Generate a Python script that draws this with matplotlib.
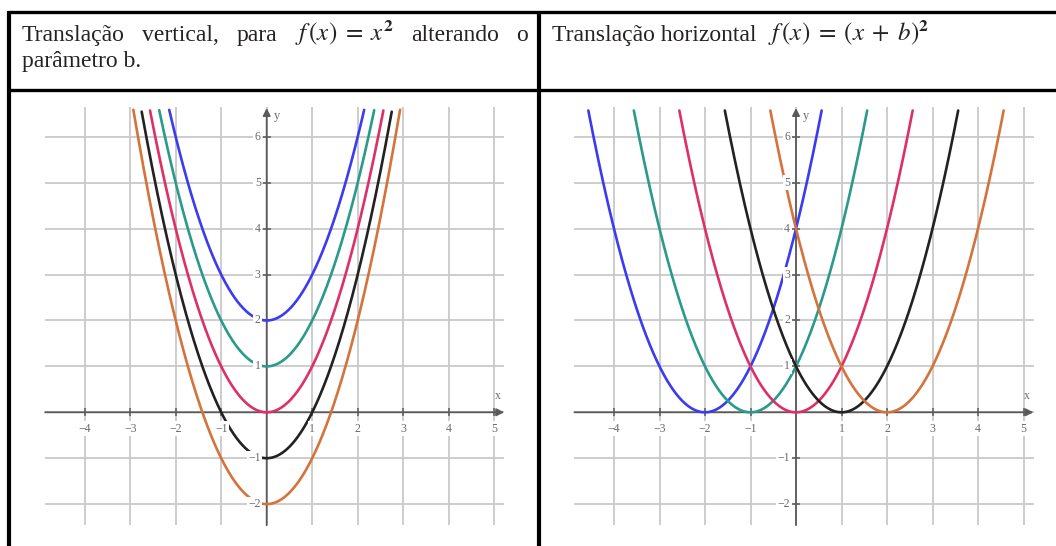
#!/usr/bin/env python3
"""Two-panel table of parabola translations: f(x) = x^2 + b and f(x) = (x + b)^2."""

import numpy as np
import matplotlib
matplotlib.use("Agg")
import matplotlib.pyplot as plt
from matplotlib.lines import Line2D

# parameter b of each curve (same order as the colours)
VERTICAL_B = [2, 1, 0, -1, -2]
HORIZONTAL_B = [2, 1, 0, -1, -2]
CURVE_COLORS = ["#3b3bf0", "#2a9a8b", "#dd3066", "#222222", "#d4733b"]

X_TICKS = [-4, -3, -2, -1, 1, 2, 3, 4, 5]
Y_TICKS = [-2, -1, 1, 2, 3, 4, 5, 6]
GRID_X = [-4, -3, -2, -1, 0, 1, 2, 3, 4, 5]
GRID_Y = [-2, -1, 0, 1, 2, 3, 4, 5, 6]

HEAD_LEFT_1 = ["Translação", "vertical,", "para",
               r"$f\,(x)\;=\;x^{\mathbf{2}}$", "alterando", "o"]
HEAD_LEFT_2 = "parâmetro b."
HEAD_RIGHT_TEXT = "Translação horizontal"
HEAD_RIGHT_MATH = r"$f\,(x)\;=\;(x\;+\;b)^{\mathbf{2}}$"

W, H = 1056, 546
XMIN, XMAX = -4.87, 5.22      # extent of the drawn grid
YMIN, YMAX = -2.46, 6.66
YCLIP = 6.6                   # curves stop here

plt.rcParams["font.family"] = ["Liberation Serif", "DejaVu Serif"]
plt.rcParams["mathtext.fontset"] = "stix"

GRID_C = "#c9c9c9"
AXIS_C = "#5a5a5a"
LABEL_C = "#6a6a6a"


def px(x, y):
    """pixel (from top-left) -> figure fraction"""
    return x / W, 1 - y / H


def panel(fig, left_px, curves):
    # origin sits at (left_px + 223, 412) px, one unit is ~45.5 px
    ux, uy = 45.5, 45.9
    x0, x1 = -4.9, 5.3
    y0, y1 = -2.5, 6.7
    ox, oy = left_px + 223.0, 412.3
    ax = fig.add_axes([(ox + x0 * ux) / W, (H - (oy - y0 * uy)) / H,
                       (x1 - x0) * ux / W, (y1 - y0) * uy / H])
    ax.set_xlim(x0, x1)
    ax.set_ylim(y0, y1)
    ax.axis("off")

    ax.hlines(GRID_Y, XMIN, XMAX, color=GRID_C, lw=1.3, zorder=1)
    ax.vlines(GRID_X, YMIN, YMAX, color=GRID_C, lw=1.3, zorder=1)

    ax.annotate("", xy=(XMAX, 0), xytext=(XMIN, 0),
                arrowprops=dict(arrowstyle="-|>", color=AXIS_C, lw=1.3,
                                mutation_scale=11, shrinkA=0, shrinkB=0),
                zorder=2)
    ax.annotate("", xy=(0, YMAX - 0.03), xytext=(0, YMIN),
                arrowprops=dict(arrowstyle="-|>", color=AXIS_C, lw=1.3,
                                mutation_scale=11, shrinkA=0, shrinkB=0),
                zorder=2)
    ax.plot(X_TICKS, [0] * len(X_TICKS), ls="none", marker="|", ms=6,
            mew=1.1, color=AXIS_C, zorder=2)
    ax.plot([0] * len(Y_TICKS), Y_TICKS, ls="none", marker="_", ms=6,
            mew=1.1, color=AXIS_C, zorder=2)

    xs = np.linspace(-5.5, 5.5, 1200)
    for ys, c in zip(curves(xs), CURVE_COLORS):
        ys = np.where(ys > YCLIP, np.nan, ys)
        ax.plot(xs, ys, color=c, lw=1.9, zorder=3, solid_capstyle="round")

    box = dict(boxstyle="square,pad=0.12", fc="white", ec="none")
    for t in X_TICKS:
        ax.text(t, -0.36, f"{t}".replace("-", "\u2212"), ha="center",
                va="center", fontsize=8.5, color=LABEL_C, bbox=box, zorder=4)
    for t in Y_TICKS:
        ax.text(-0.13, t, f"{t}".replace("-", "\u2212"), ha="right",
                va="center", fontsize=8.5, color=LABEL_C, bbox=box, zorder=4)
    ax.text(5.08, 0.36, "x", ha="center", va="center", fontsize=8.5,
            color=LABEL_C, zorder=4)
    ax.text(0.22, 6.45, "y", ha="center", va="center", fontsize=9,
            color=LABEL_C, zorder=4)
    return ax


fig = plt.figure(figsize=(W / 100, H / 100), dpi=100)
fig.patch.set_facecolor("white")

panel(fig, 43.7, lambda x: [x ** 2 + b for b in VERTICAL_B])
panel(fig, 573.0, lambda x: [(x + b) ** 2 for b in HORIZONTAL_B])

# table borders
for (xa, ya), (xb, yb), lw in [((8, 12), (W, 12), 2.4),
                               ((8, 90), (W, 90), 2.4),
                               ((8.5, 11), (8.5, H), 3.0),
                               ((538.5, 11), (538.5, H), 3.0)]:
    fa, fb = px(xa, ya), px(xb, yb)
    fig.add_artist(Line2D([fa[0], fb[0]], [fa[1], fb[1]], color="black",
                          lw=lw, solid_capstyle="butt"))

# header texts
fs = 17
mfs = 18
tc = "#262222"
renderer = fig.canvas.get_renderer()

# first line of the left cell is justified
words = [fig.text(0, 0, w, fontsize=mfs if w.startswith("$") else fs,
                  color=tc, va="baseline")
         for w in HEAD_LEFT_1]
widths = [w.get_window_extent(renderer).width for w in words]
left, right = 22.0, 528.0
gap = (right - left - sum(widths)) / (len(words) - 1)
xpos = left
for w, wd in zip(words, widths):
    w.set_position(px(xpos, 41))
    xpos += wd + gap
fig.text(*px(22, 67), HEAD_LEFT_2, fontsize=fs, color=tc, va="baseline")

fig.text(*px(552, 41), HEAD_RIGHT_TEXT, fontsize=fs, color=tc, va="baseline")
fig.text(*px(768, 41), HEAD_RIGHT_MATH, fontsize=mfs, color=tc,
         va="baseline")

fig.savefig("out.png", dpi=100)
plt.close(fig)
